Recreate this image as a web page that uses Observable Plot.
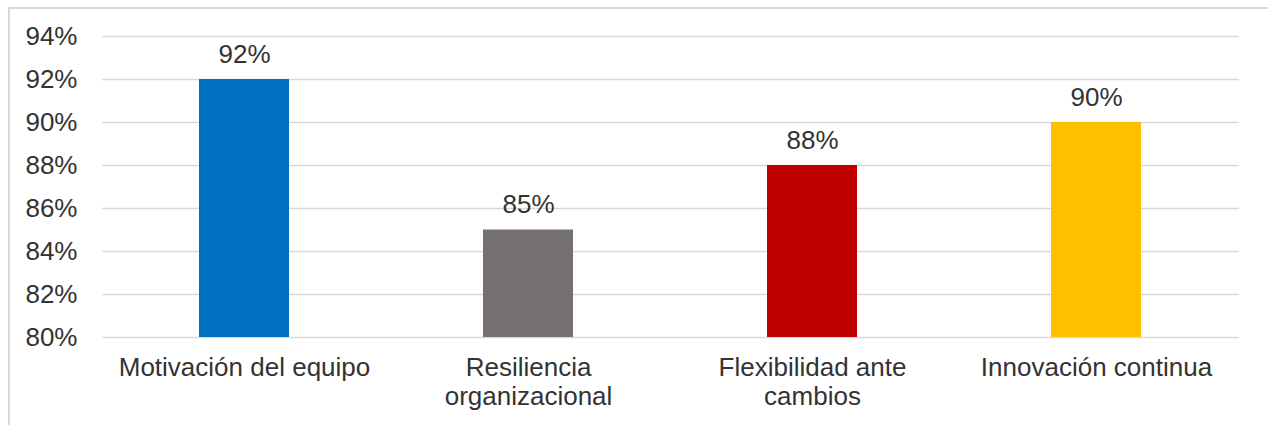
<!DOCTYPE html>
<html>
<head>
<meta charset="utf-8">
<script src="https://cdn.jsdelivr.net/npm/d3@7"></script>
<script src="https://cdn.jsdelivr.net/npm/@observablehq/plot@0.6"></script>
<style>
  html, body { margin: 0; padding: 0; background: #fff; overflow: hidden; }
  #wrap { position: relative; width: 1268px; height: 425px; overflow: hidden; }
  #frame { position: absolute; left: 8px; top: 7px; width: 1400px; height: 600px; border: 2px solid #d9d9d9; box-sizing: border-box; }
  #chart { position: absolute; left: 0; top: 0; }
</style>
</head>
<body>
<div id="wrap"><div id="frame"></div><div id="chart"></div></div>
<script>
const categories = ["Motivación del equipo", "Resiliencia organizacional", "Flexibilidad ante cambios", "Innovación continua"];
const tickLabels = ["Motivación del equipo", "Resiliencia\norganizacional", "Flexibilidad ante\ncambios", "Innovación continua"];
const values = [0.92, 0.85, 0.88, 0.90];
const colors = ["#0070C0", "#767171", "#C00000", "#FFC000"];
const yTicks = [0.80, 0.82, 0.84, 0.86, 0.88, 0.90, 0.92, 0.94];
const baseline = 0.80;

const data = categories.map((c, i) => ({cat: c, value: values[i], color: colors[i], base: baseline}));
const labelOf = new Map(categories.map((c, i) => [c, tickLabels[i]]));

const chart = Plot.plot({
  width: 1268,
  height: 425,
  marginLeft: 102,
  marginRight: 29,
  marginTop: 36,
  marginBottom: 88,
  style: {background: "transparent", fontFamily: "'Liberation Sans', Arial, sans-serif", fontSize: "26px", color: "#333"},
  x: {domain: categories, paddingInner: 0.683, paddingOuter: 0.3415, label: null},
  y: {domain: [0.80, 0.94], label: null},
  marks: [
    Plot.gridY(yTicks, {stroke: "#d9d9d9", strokeOpacity: 1, strokeWidth: 1.5}),
    Plot.barY(data, {x: "cat", y1: "base", y2: "value", fill: d => d.color}),
    Plot.text(data, {x: "cat", y: "value", text: d => d3.format(".0%")(d.value), dy: -25, fill: "#333", fontSize: 26}),
    Plot.axisY({ticks: yTicks, tickFormat: d3.format(".0%"), tickSize: 0, tickPadding: 25, fontSize: 26, fill: "#333"}),
    Plot.axisX({tickFormat: d => labelOf.get(d), tickSize: 0, tickPadding: 19, fontSize: 26, lineHeight: 1.08, fill: "#333"})
  ]
});
document.getElementById("chart").appendChild(chart);
</script>
</body>
</html>
